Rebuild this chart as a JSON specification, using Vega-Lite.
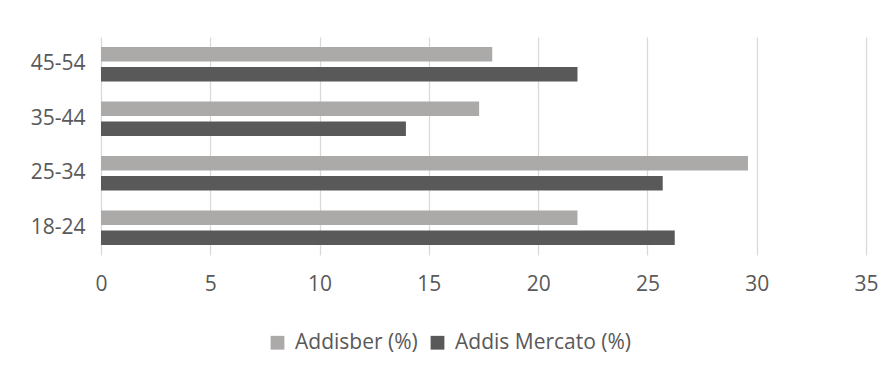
{
  "$schema": "https://vega.github.io/schema/vega-lite/v6.json",
  "width": 765,
  "height": 218,
  "autosize": {"type": "none"},
  "padding": {"left": 101, "top": 37, "right": 19, "bottom": 121},
  "background": "white",
  "config": {
    "view": {"stroke": null},
    "font": "Open Sans",
    "axis": {"labelFont": "Open Sans", "labelColor": "#595959", "labelFontSize": 21}
  },
  "data": {
    "values": [
      {"age": "45-54", "site": "Addisber (%)", "pct": 17.9},
      {"age": "45-54", "site": "Addis Mercato (%)", "pct": 21.8},
      {"age": "35-44", "site": "Addisber (%)", "pct": 17.3},
      {"age": "35-44", "site": "Addis Mercato (%)", "pct": 13.95},
      {"age": "25-34", "site": "Addisber (%)", "pct": 29.6},
      {"age": "25-34", "site": "Addis Mercato (%)", "pct": 25.7},
      {"age": "18-24", "site": "Addisber (%)", "pct": 21.8},
      {"age": "18-24", "site": "Addis Mercato (%)", "pct": 26.25}
    ]
  },
  "mark": {"type": "bar", "cornerRadius": 0},
  "encoding": {
    "y": {
      "field": "age",
      "type": "nominal",
      "sort": ["45-54", "35-44", "25-34", "18-24"],
      "scale": {"paddingInner": 0.367, "paddingOuter": 0.183},
      "axis": {
        "title": null,
        "ticks": false,
        "domain": false,
        "grid": false,
        "labelPadding": 16
      }
    },
    "yOffset": {
      "field": "site",
      "type": "nominal",
      "sort": ["Addisber (%)", "Addis Mercato (%)"],
      "scale": {"paddingInner": 0.275, "paddingOuter": 0}
    },
    "x": {
      "field": "pct",
      "type": "quantitative",
      "scale": {"domain": [0, 35], "nice": false},
      "axis": {
        "title": null,
        "values": [0, 5, 10, 15, 20, 25, 30, 35],
        "ticks": false,
        "domain": false,
        "grid": true,
        "gridColor": "#d9d9d9",
        "gridWidth": 1.3,
        "labelPadding": 18,
        "labelFlush": false
      }
    },
    "color": {
      "field": "site",
      "type": "nominal",
      "sort": ["Addisber (%)", "Addis Mercato (%)"],
      "scale": {"range": ["#acaaa9", "#595959"]},
      "legend": {
        "title": null,
        "orient": "none",
        "direction": "horizontal",
        "legendX": 166,
        "legendY": 295,
        "symbolType": "square",
        "symbolSize": 190,
        "symbolStrokeWidth": 0,
        "labelFont": "Open Sans",
        "labelFontSize": 21,
        "labelColor": "#595959",
        "labelLimit": 0,
        "labelOffset": 7,
        "columnPadding": 9
      }
    }
  }
}
